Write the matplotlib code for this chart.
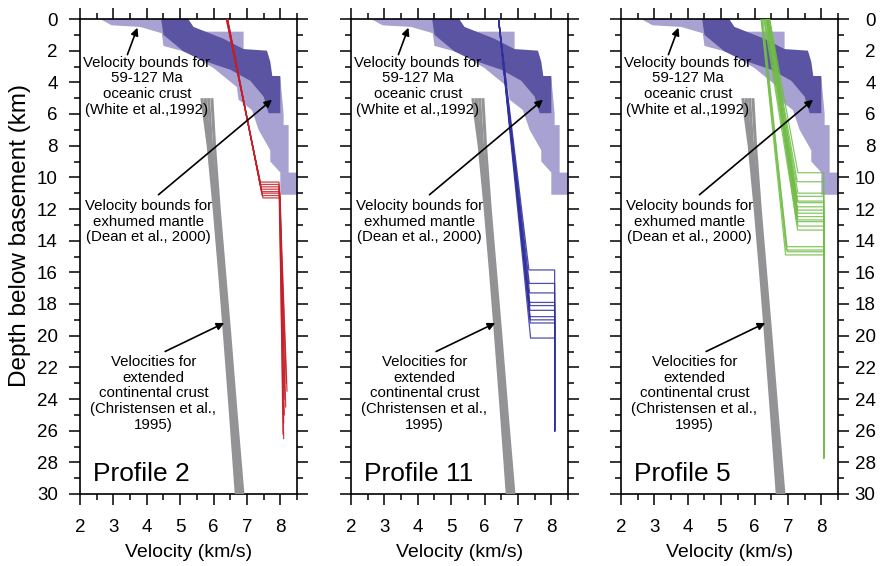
import matplotlib
matplotlib.use('Agg')
import matplotlib.pyplot as plt
from matplotlib.ticker import MultipleLocator

plt.rcParams['font.family'] = ['Liberation Sans', 'DejaVu Sans']

# velocity bounds as (velocity km/s, depth km) outlines
white_crust = [(2.6, 0), (5.0, 0), (5.0, 0.8), (6.9, 0.8), (6.9, 2.1), (7.6, 2.15),
               (7.7, 3.7), (8.0, 3.7), (8.1, 6.0), (8.1, 6.7), (8.25, 6.7), (8.25, 9.7),
               (8.5, 9.7), (8.5, 11.1), (8.0, 11.1), (8.0, 9.7), (7.7, 9.0), (7.7, 8.3),
               (7.35, 7.0), (7.15, 5.75), (6.75, 5.1), (6.7, 4.3), (6.0, 3.1), (5.2, 2.1),
               (4.5, 1.7), (4.45, 0.9), (3.8, 0.5), (2.95, 0.4)]
dean_mantle = [(4.43, 0), (5.24, 0), (5.4, 0.5), (6.3, 1.25), (6.9, 1.9), (7.6, 2.0),
               (7.7, 2.7), (7.76, 3.6), (8.0, 3.6), (8.0, 5.95), (7.65, 5.95), (7.5, 4.9),
               (7.1, 3.9), (6.5, 3.2), (6.0, 2.85), (5.5, 2.45), (5.1, 2.05), (4.5, 1.0)]

# extended continental crust (Christensen)
cont_depth = [5, 8, 12, 16, 20, 25, 30]
cont_vel = [
    [5.65, 5.84, 6.02, 6.18, 6.33, 6.51, 6.68],
    [5.75, 5.88, 6.06, 6.22, 6.38, 6.56, 6.74],
    [5.85, 5.94, 6.11, 6.27, 6.43, 6.61, 6.80],
    [5.95, 6.03, 6.17, 6.33, 6.49, 6.68, 6.88],
]

# profile 2 models
p2_top_v = [6.38, 6.39, 6.40, 6.40, 6.41, 6.41, 6.42, 6.42]
p2_base_v = [7.40, 7.41, 7.42, 7.43, 7.44, 7.45, 7.46, 7.48]
p2_base_d = [10.3, 10.45, 10.6, 10.75, 10.9, 11.0, 11.15, 11.3]
p2_mantle_v = [7.96, 7.96, 7.97, 7.97, 7.98, 7.98, 7.99, 8.0]
p2_end_v = [8.18, 8.1, 8.16, 8.12, 8.2, 8.08, 8.14, 8.1]
p2_end_d = [23.0, 26.5, 24.5, 25.0, 23.5, 26.2, 24.0, 25.5]

# profile 11 models
p11_top_v = [6.42, 6.42, 6.42, 6.42, 6.42, 6.42, 6.42, 6.42, 6.42, 6.42]
p11_base_v = [7.33, 7.34, 7.35, 7.35, 7.36, 7.36, 7.36, 7.37, 7.37, 7.38]
p11_base_d = [15.85, 16.7, 17.3, 17.9, 18.1, 18.4, 18.8, 19.0, 19.2, 20.15]
p11_mantle_v = [8.1, 8.1, 8.1, 8.1, 8.1, 8.1, 8.1, 8.1, 8.1, 8.1]
p11_end_v = [8.1, 8.1, 8.1, 8.1, 8.1, 8.1, 8.1, 8.1, 8.1, 8.1]
p11_end_d = [26.0, 26.0, 26.0, 26.0, 26.0, 26.0, 26.0, 26.0, 26.0, 26.0]

# profile 5 models
p5_top_v = [6.45, 6.42, 6.40, 6.38, 6.36, 6.45, 6.33, 6.40, 6.35,
            6.30, 6.44, 6.28, 6.40, 6.38, 6.22, 6.20, 6.25, 6.20]
p5_base_v = [7.30, 7.28, 7.30, 7.26, 7.28, 7.30, 7.27, 7.29, 7.30,
             7.28, 7.30, 7.26, 7.30, 7.29, 6.97, 6.95, 6.98, 6.93]
p5_base_d = [9.71, 10.28, 11.0, 11.2, 11.5, 11.6, 11.86, 12.07, 12.27,
             12.48, 12.69, 12.8, 13.08, 13.33, 14.38, 14.59, 14.7, 14.9]
p5_mantle_v = [8.07] * 18
p5_end_v = [8.07] * 18
p5_end_d = [27.7] * 18

profiles = [
    ('Profile 2', '#c41e28', p2_top_v, p2_base_v, p2_base_d, p2_mantle_v, p2_end_v, p2_end_d),
    ('Profile 11', '#30309e', p11_top_v, p11_base_v, p11_base_d, p11_mantle_v, p11_end_v, p11_end_d),
    ('Profile 5', '#72bd48', p5_top_v, p5_base_v, p5_base_d, p5_mantle_v, p5_end_v, p5_end_d),
]

fig = plt.figure(figsize=(8.82, 5.66), dpi=100)
lefts = [80 / 882, 351 / 882, 621 / 882]
bottom = 1 - 494 / 566
height = 475 / 566
width = 217 / 882

for i, (name, col, top_v, base_v, base_d, man_v, end_v, end_d) in enumerate(profiles):
    ax = fig.add_axes([lefts[i], bottom, width, height])

    ax.fill([p[0] for p in white_crust], [p[1] for p in white_crust],
            color='#a8a2d2', lw=0, zorder=1)
    ax.fill([p[0] for p in dean_mantle], [p[1] for p in dean_mantle],
            color='#5a54a2', lw=0, zorder=2)

    for vel in cont_vel:
        ax.plot(vel, cont_depth, color='#939396', lw=2.2, zorder=3,
                solid_capstyle='butt')

    for k in range(len(top_v)):
        xs = [top_v[k], base_v[k], man_v[k], end_v[k]]
        ys = [0, base_d[k], base_d[k], end_d[k]]
        ax.plot(xs, ys, color=col, lw=0.9, alpha=0.85, zorder=4)

    txt = dict(ha='center', va='center', fontsize=10.8, linespacing=1.16, zorder=6)
    ax.text(4.0, 4.25, 'Velocity bounds for\n59-127 Ma\noceanic crust\n(White et al.,1992)', **txt)
    ax.text(4.05, 12.8, 'Velocity bounds for\nexhumed mantle\n(Dean et al., 2000)', **txt)
    ax.text(4.2, 23.65, 'Velocities for\nextended\ncontinental crust\n(Christensen et al.,\n1995)', **txt)

    arrow = dict(arrowstyle='-|>', color='k', lw=1.2, mutation_scale=11,
                 shrinkA=0, shrinkB=0)
    ax.annotate('', xy=(3.72, 0.55), xytext=(3.42, 2.25), arrowprops=arrow, zorder=7)
    ax.annotate('', xy=(7.75, 5.1), xytext=(4.35, 11.1), arrowprops=arrow, zorder=7)
    ax.annotate('', xy=(6.32, 19.2), xytext=(4.55, 21.0), arrowprops=arrow, zorder=7)

    ax.text(2.4, 29.2, name, fontsize=19, ha='left', va='baseline', zorder=6)

    ax.set_xlim(2, 8.5)
    ax.set_ylim(30, 0)
    ax.xaxis.set_major_locator(MultipleLocator(1))
    ax.xaxis.set_minor_locator(MultipleLocator(0.5))
    ax.yaxis.set_major_locator(MultipleLocator(2))
    ax.yaxis.set_minor_locator(MultipleLocator(1))
    ax.tick_params(which='both', direction='out', top=True, right=True,
                   width=1.1, labelsize=13.5)
    ax.tick_params(which='major', length=8)
    ax.tick_params(which='minor', length=4.3)
    ax.tick_params(axis='x', pad=10)
    for s in ax.spines.values():
        s.set_linewidth(1.2)

    xt = [2, 3, 4, 5, 6, 7, 8]
    ax.set_xticks(xt)
    ax.set_xticklabels([str(t) for t in xt])
    ax.set_xlabel('Velocity (km/s)', fontsize=14, labelpad=6)

    if i == 0:
        ax.tick_params(axis='y', pad=8)
        ax.set_ylabel('Depth below basement (km)', fontsize=17.5, labelpad=4)
        ax.yaxis.label.set_y(0.545)
    elif i == 2:
        ax.tick_params(axis='y', labelleft=False, labelright=True, pad=19)
        for lab in ax.get_yticklabels():
            lab.set_horizontalalignment('right')
    else:
        ax.tick_params(axis='y', labelleft=False)

fig.savefig('out.png', dpi=100)
